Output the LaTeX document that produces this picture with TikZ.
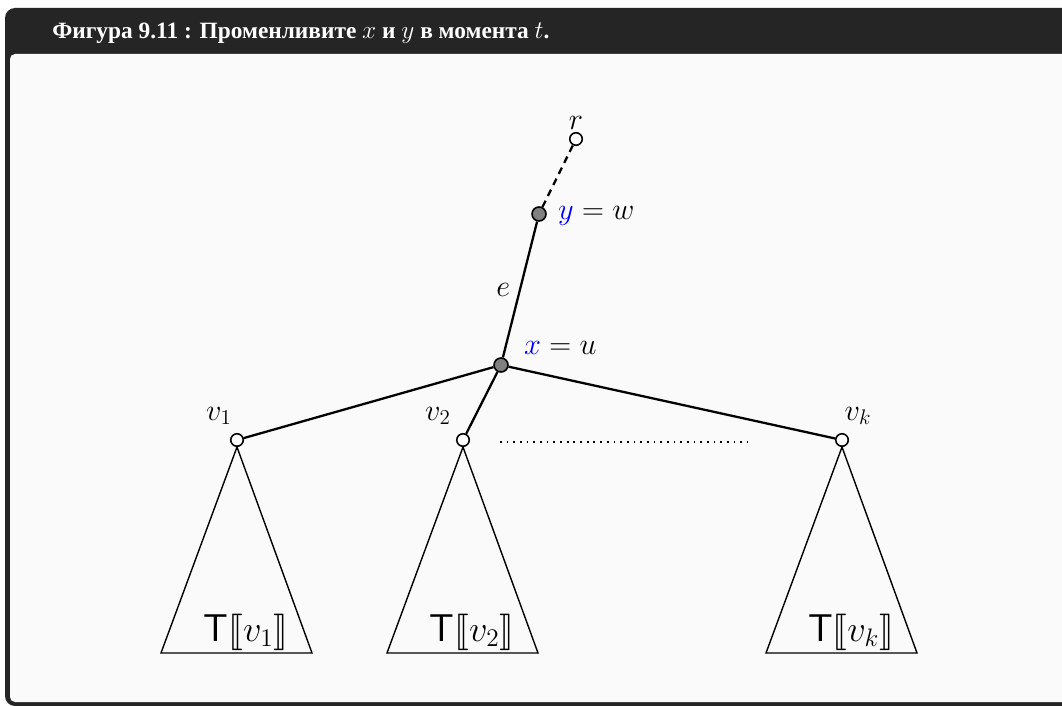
\documentclass[tikz,border=0pt]{standalone}
\usepackage{fontspec}
\usepackage{stmaryrd}
\newfontfamily\captionfont{Liberation Serif}
\usetikzlibrary{positioning}
\definecolor{framedark}{RGB}{37,37,37}
\definecolor{panelbg}{RGB}{250,250,250}
\definecolor{knotgray}{RGB}{128,128,128}

\tikzset{
  leaf/.style={circle,draw,line width=0.9pt,fill=white,inner sep=0pt,minimum size=0.25cm},
  inner/.style={leaf,fill=knotgray,minimum size=0.28cm},
  lab/.style={font=\fontsize{18}{20}\selectfont,inner sep=1pt},
  branch/.style={line width=1.3pt},
  subtree/.style={line width=0.8pt}
}

\begin{document}
\begin{tikzpicture}[x=0.02cm,y=-0.02cm]
  \useasboundingbox (0,0) rectangle (1062,706);
  % frame with title bar
  \fill[white] (0,0) rectangle (1062,706);
  \fill[framedark,rounded corners=0.2cm] (5,706) -- (5,8) -- (1090,8) -- (1090,706) -- cycle;
  \fill[panelbg,rounded corners=0.1cm] (10,702) -- (10,54) -- (1080,54) -- (1080,702) -- cycle;
  \node[anchor=base west,text=white,inner sep=0pt,
    font=\captionfont\bfseries\fontsize{13.3}{15}\selectfont] (title) at (52,39)
    {Фигура 9.11 : Променливите $x$ и $y$ в момента $t$.};

  % path to the root
  \node[leaf] (r) at (576,139) {};
  \node[lab,above=0pt of r] (lr) {$r$};
  \node[inner] (w) at (539,214) {};
  \node[lab,anchor=west] (lw) at (556,216) {$\textcolor{blue}{y}=w$};
  \node[inner] (u) at (501,365) {};
  \node[lab,anchor=west] (lu) at (522,348) {$\textcolor{blue}{x}=u$};
  \draw[branch,dash pattern=on 4pt off 3pt] (w) -- (r);
  \draw[branch] (u) -- node[lab,left=4pt] (le) {$e$} (w);

  % children and their subtrees
  \foreach \n/\px/\lx in {1/237/-18, 2/463/-25, k/842/16} {
    \node[leaf] (v\n) at (\px,440) {};
    \node[lab] (lv\n) at (\px+\lx,416) {$v_{\n}$};
    \draw[subtree] (v\n.south) -- (\px-76,653) -- (\px+75,653) -- cycle;
    \node[font=\fontsize{22}{24}\selectfont,inner sep=0pt] (t\n) at (\px+9,632)
      {$\mathsf{T}\llbracket v_{\n}\rrbracket$};
    \draw[branch] (u) -- (v\n);
  }
  \coordinate (dotl) at (500,442);
  \coordinate (dotr) at (748,442);
  \draw[line width=1pt,dash pattern=on 1pt off 2.8pt] (dotl) -- (dotr);
\end{tikzpicture}
\end{document}
